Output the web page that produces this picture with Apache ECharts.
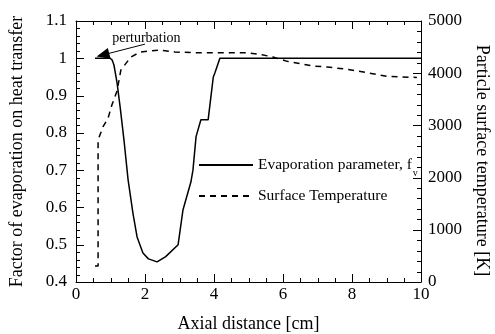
<!DOCTYPE html>
<html>
<head>
<meta charset="utf-8">
<script src="https://cdn.jsdelivr.net/npm/echarts@6/dist/echarts.min.js"></script>
<style>
  html, body { margin: 0; padding: 0; background: #fff; }
  #chart { width: 495px; height: 334px; }
</style>
</head>
<body>
<div id="chart"></div>
<script>
// evaporation factor f_v (left axis)
var evapX = [0.55, 0.99, 1.05, 1.10, 1.19, 1.28, 1.39, 1.51, 1.65, 1.77, 1.94, 2.10, 2.35, 2.60, 2.96, 3.10, 3.33, 3.39, 3.48, 3.62, 3.83, 3.98, 4.03, 4.17, 10];
var evapY = [1.0, 1.0, 0.995, 0.982, 0.934, 0.869, 0.781, 0.674, 0.585, 0.521, 0.478, 0.462, 0.454, 0.468, 0.5, 0.593, 0.668, 0.70, 0.79, 0.835, 0.835, 0.95, 0.962, 1.0, 1.0];
// particle surface temperature [K] (right axis)
var tempX = [0.55, 0.64, 0.64, 0.78, 0.93, 1.04, 1.19, 1.30, 1.59, 1.86, 2.43, 2.87, 3.60, 4.96, 5.39, 5.71, 6.12, 6.87, 7.28, 7.86, 8.43, 9.01, 9.68, 9.88];
var tempY = [306, 306, 2720, 2970, 3140, 3390, 3660, 4060, 4310, 4406, 4444, 4406, 4390, 4393, 4354, 4310, 4227, 4138, 4119, 4075, 4010, 3940, 3921, 3920];

// axis ranges: major interval and number of minor steps per interval
var xTicks = { min: 0, max: 10, interval: 2, minor: 4 };
var leftTicks = { min: 0.4, max: 1.1, interval: 0.1, minor: 5 };
var rightTicks = { min: 0, max: 5000, interval: 1000, minor: 5 };

// perturbation arrow, in data coordinates
var arrowFrom = [2.0, 1.038];
var arrowTo = [0.78, 1.009];
var noteAt = [2.04, 1.054];

function zip(xs, ys) {
  var out = [];
  for (var i = 0; i < xs.length; i++) out.push([xs[i], ys[i]]);
  return out;
}

// tick values (value, isMajor) along an axis range
function tickValues(r) {
  var out = [];
  var steps = Math.round((r.max - r.min) / r.interval) * r.minor;
  for (var i = 0; i <= steps; i++) {
    var v = r.min + i * r.interval / r.minor;
    out.push([Math.round(v * 1e6) / 1e6, i % r.minor === 0 ? 1 : 0]);
  }
  return out;
}

var FONT = "Liberation Serif";
var chart = echarts.init(document.getElementById("chart"));

function line() {
  return { show: true, onZero: false, lineStyle: { color: "#000", width: 1 } };
}
function label(m) {
  return {
    margin: m, color: "#000", fontFamily: FONT, fontSize: 17,
    formatter: function (v) { return String(v); }
  };
}
function nameStyle(extra) {
  return Object.assign({ color: "#000", fontFamily: FONT, fontSize: 18 }, extra || {});
}

var option = {
  animation: false,
  grid: { left: 76, right: 74, top: 21, bottom: 52, containLabel: false, outerBoundsMode: "none" },
  legend: {
    orient: "vertical",
    left: 198,
    top: 157,
    padding: 0,
    itemWidth: 54,
    itemHeight: 10,
    itemGap: 10,
    itemStyle: { opacity: 0 },
    textStyle: {
      color: "#000",
      fontFamily: FONT,
      fontSize: 15.5,
      rich: {
        a: { fontFamily: FONT, fontSize: 15.5, color: "#000" },
        s: { fontFamily: FONT, fontSize: 10, color: "#000", padding: [16, 0, 0, 1] }
      }
    },
    formatter: function (name) {
      if (name === "Evaporation parameter, f") return "{a|Evaporation parameter, f}{s|v}";
      return name;
    },
    data: ["Evaporation parameter, f", "Surface Temperature"]
  },
  xAxis: [
    {
      type: "value",
      min: xTicks.min, max: xTicks.max, interval: xTicks.interval,
      name: "Axial distance [cm]",
      nameLocation: "middle",
      nameGap: 33,
      nameTextStyle: nameStyle(),
      axisLine: line(),
      axisTick: { show: false },
      axisLabel: label(4),
      splitLine: { show: false }
    },
    {
      type: "value",
      position: "top",
      min: xTicks.min, max: xTicks.max, interval: xTicks.interval,
      axisLine: line(),
      axisTick: { show: false },
      axisLabel: { show: false },
      splitLine: { show: false }
    }
  ],
  yAxis: [
    {
      type: "value",
      min: leftTicks.min, max: leftTicks.max, interval: leftTicks.interval,
      name: "Factor of evaporation on heat transfer",
      nameLocation: "middle",
      nameGap: 50,
      nameTextStyle: nameStyle(),
      axisLine: line(),
      axisTick: { show: false },
      axisLabel: label(9),
      splitLine: { show: false }
    },
    {
      type: "value",
      position: "right",
      min: rightTicks.min, max: rightTicks.max, interval: rightTicks.interval,
      name: "Particle surface temperature [K]",
      nameLocation: "middle",
      nameGap: 48,
      nameRotate: -90,
      nameTextStyle: nameStyle({ padding: [0, 0, 0, 18] }),
      axisLine: line(),
      axisTick: { show: false },
      axisLabel: label(7),
      splitLine: { show: false }
    }
  ],
  series: [
    {
      name: "Evaporation parameter, f",
      type: "line",
      xAxisIndex: 0,
      yAxisIndex: 0,
      symbol: "none",
      lineStyle: { color: "#000", width: 1.5 },
      itemStyle: { color: "#000" },
      data: zip(evapX, evapY),
      markLine: {
        silent: true,
        symbol: ["none", "triangle"],
        symbolSize: [11, 13],
        lineStyle: { color: "#000", width: 1, type: "solid" },
        label: { show: false },
        data: [[{ coord: arrowFrom }, { coord: arrowTo }]]
      },
      markPoint: {
        silent: true,
        symbol: "circle",
        symbolSize: 1,
        itemStyle: { color: "rgba(0,0,0,0)" },
        label: {
          show: true,
          position: "inside",
          formatter: "perturbation",
          color: "#000",
          fontFamily: FONT,
          fontSize: 14
        },
        data: [{ coord: noteAt }]
      }
    },
    {
      name: "Surface Temperature",
      type: "line",
      xAxisIndex: 0,
      yAxisIndex: 1,
      symbol: "none",
      lineStyle: { color: "#000", width: 1.5, type: [6, 5] },
      itemStyle: { color: "#000" },
      data: zip(tempX, tempY)
    }
  ]
};

chart.setOption(option);

// inward frame ticks, placed through the axes' own scales
var gl = chart.convertToPixel({ xAxisIndex: 0 }, xTicks.min);
var gr = chart.convertToPixel({ xAxisIndex: 0 }, xTicks.max);
var gb = chart.convertToPixel({ yAxisIndex: 0 }, leftTicks.min);
var gt = chart.convertToPixel({ yAxisIndex: 0 }, leftTicks.max);
var ticks = [];
function tickLine(x1, y1, x2, y2) {
  ticks.push({
    type: "line",
    silent: true,
    z: 100,
    zlevel: 1,
    shape: { x1: x1, y1: y1, x2: x2, y2: y2 },
    style: { stroke: "#000", lineWidth: 1 }
  });
}
tickValues(xTicks).forEach(function (t) {
  var x = Math.round(chart.convertToPixel({ xAxisIndex: 0 }, t[0])) + 0.5;
  var len = t[1] ? 8 : 4;
  tickLine(x, gb, x, gb - len);
  tickLine(x, gt, x, gt + len);
});
tickValues(leftTicks).forEach(function (t) {
  var y = Math.round(chart.convertToPixel({ yAxisIndex: 0 }, t[0])) + 0.5;
  tickLine(gl, y, gl + (t[1] ? 8 : 4), y);
});
tickValues(rightTicks).forEach(function (t) {
  var y = Math.round(chart.convertToPixel({ yAxisIndex: 1 }, t[0])) + 0.5;
  tickLine(gr, y, gr - (t[1] ? 8 : 4), y);
});
chart.setOption({ graphic: ticks });
</script>
</body>
</html>
